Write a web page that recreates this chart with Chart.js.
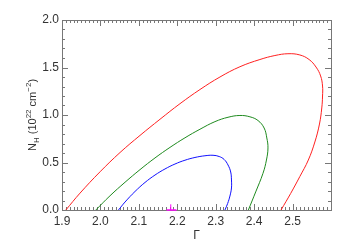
<!DOCTYPE html>
<html>
<head>
<meta charset="utf-8">
<script src="https://cdn.jsdelivr.net/npm/chart.js@4"></script>
<style>
  body { margin: 0; background: #fff; }
  canvas { display: block; }
</style>
</head>
<body>
<canvas id="contours" width="350" height="250"></canvas>
<script>
// contour lines (Gamma, N_H in 1e22 cm^-2)
const redGamma   = [1.910, 1.947, 1.999, 2.051, 2.103, 2.155, 2.207, 2.259, 2.311, 2.363, 2.415, 2.454, 2.488, 2.519, 2.543, 2.561, 2.573, 2.578, 2.578, 2.576, 2.570, 2.558, 2.541, 2.519, 2.495, 2.470];
const redNH      = [0.000, 0.178, 0.402, 0.605, 0.785, 0.955, 1.119, 1.268, 1.400, 1.508, 1.584, 1.626, 1.645, 1.632, 1.584, 1.505, 1.411, 1.305, 1.200, 1.074, 0.905, 0.716, 0.526, 0.353, 0.174, 0.000];

const greenGamma = [1.988, 2.025, 2.064, 2.103, 2.142, 2.181, 2.220, 2.259, 2.298, 2.332, 2.363, 2.389, 2.410, 2.426, 2.433, 2.436, 2.432, 2.423, 2.404, 2.385];
const greenNH    = [0.000, 0.150, 0.292, 0.425, 0.548, 0.659, 0.760, 0.850, 0.930, 0.976, 0.995, 0.981, 0.942, 0.863, 0.758, 0.653, 0.526, 0.386, 0.190, 0.000];

const blueGamma  = [2.047, 2.064, 2.090, 2.116, 2.142, 2.168, 2.194, 2.220, 2.246, 2.272, 2.293, 2.309, 2.322, 2.332, 2.339, 2.341, 2.341, 2.337, 2.331, 2.324];
const blueNH     = [0.000, 0.084, 0.195, 0.290, 0.368, 0.432, 0.484, 0.524, 0.553, 0.571, 0.576, 0.563, 0.532, 0.474, 0.400, 0.316, 0.232, 0.147, 0.068, 0.000];

// best fit mark
const bestGamma = 2.183;
const bestErrLo = 2.172;
const bestErrHi = 2.198;
const bestMarkH = 0.06;

// axes
const xMin = 1.9, xMax = 2.6, xStep = 0.1, xMinor = 0.01;
const yMin = 0, yMax = 2.0, yStep = 0.5, yMinor = 0.1;

const pts = (xs, ys) => xs.map((x, i) => ({x: x, y: ys[i]}));

const line = (data, color, width) => ({
  data: data,
  showLine: true,
  borderColor: color,
  borderWidth: width || 1,
  pointRadius: 0,
  tension: 0.4,
  fill: false,
  clip: false
});

const axisColor = '#777';
const textColor = '#333';

// IDL style box with inward ticks on all four sides + y title
const frame = {
  id: 'frame',
  beforeDatasetsDraw(chart) {
    const ctx = chart.ctx;
    const a = chart.chartArea;
    const sx = chart.scales.x, sy = chart.scales.y;
    ctx.save();
    ctx.strokeStyle = axisColor;
    ctx.lineWidth = 1;
    ctx.strokeRect(Math.round(a.left) + 0.5, Math.round(a.top) + 0.5,
                   Math.round(a.right - a.left), Math.round(a.bottom - a.top));
    ctx.beginPath();
    const nx = Math.round((xMax - xMin) / xMinor);
    for (let i = 0; i <= nx; i++) {
      const v = xMin + i * xMinor;
      const px = Math.round(sx.getPixelForValue(v)) + 0.5;
      const len = (i % 10 === 0) ? 6 : 3;
      ctx.moveTo(px, a.bottom); ctx.lineTo(px, a.bottom - len);
      ctx.moveTo(px, a.top); ctx.lineTo(px, a.top + len);
    }
    const ny = Math.round((yMax - yMin) / yMinor);
    for (let i = 0; i <= ny; i++) {
      const v = yMin + i * yMinor;
      const py = Math.round(sy.getPixelForValue(v)) + 0.5;
      const len = (i % 5 === 0) ? 6 : 3;
      ctx.moveTo(a.left, py); ctx.lineTo(a.left + len, py);
      ctx.moveTo(a.right, py); ctx.lineTo(a.right - len, py);
    }
    ctx.stroke();

    // y title: N_H (10^22 cm^-2)
    ctx.fillStyle = textColor;
    ctx.translate(36, (a.top + a.bottom) / 2);
    ctx.rotate(-Math.PI / 2);
    const big = '11px "Liberation Sans", Arial, sans-serif';
    const small = '8px "Liberation Sans", Arial, sans-serif';
    const parts = [
      ['N', big, 0], ['H', small, 3], [' (10', big, 0], ['22', small, -5],
      [' cm', big, 0], ['\u22122', small, -5], [')', big, 0]
    ];
    let w = 0;
    parts.forEach(p => { ctx.font = p[1]; w += ctx.measureText(p[0]).width; });
    let x = -w / 2;
    ctx.textBaseline = 'alphabetic';
    parts.forEach(p => {
      ctx.font = p[1];
      ctx.fillText(p[0], x, 0 + p[2]);
      x += ctx.measureText(p[0]).width;
    });
    ctx.restore();
  }
};

const config = {
  type: 'scatter',
  data: {
    datasets: [
      line(pts(redGamma, redNH), '#ff2020'),
      line(pts(greenGamma, greenNH), '#1e8a1e'),
      line(pts(blueGamma, blueNH), '#1010ff'),
      line([{x: bestErrLo, y: 0}, {x: bestErrHi, y: 0}], '#ff00ff', 1.5),
      line([{x: bestGamma, y: 0}, {x: bestGamma, y: bestMarkH}], '#ff00ff', 1)
    ]
  },
  options: {
    responsive: false,
    animation: false,
    layout: { padding: { left: 0, right: 19, top: 20, bottom: 0 } },
    plugins: {
      legend: { display: false },
      tooltip: { enabled: false }
    },
    scales: {
      x: {
        type: 'linear',
        min: xMin, max: xMax,
        afterFit: s => { s.height = 40; },
        grid: { display: false, drawTicks: false },
        border: { display: false },
        ticks: {
          stepSize: xStep,
          autoSkip: false,
          maxRotation: 0,
          padding: 4,
          color: textColor,
          font: { family: '"Liberation Sans", Arial, sans-serif', size: 12 },
          callback: v => Math.abs(v - xMax) < 1e-6 ? '' : v.toFixed(1)
        },
        title: {
          display: true,
          text: '\u0393',
          color: textColor,
          padding: { top: 0, bottom: 7 },
          font: { family: '"Liberation Sans", Arial, sans-serif', size: 12 }
        }
      },
      y: {
        type: 'linear',
        min: yMin, max: yMax,
        afterFit: s => { s.width = 62; },
        grid: { display: false, drawTicks: false },
        border: { display: false },
        ticks: {
          stepSize: yStep,
          padding: 3,
          color: textColor,
          font: { family: '"Liberation Sans", Arial, sans-serif', size: 12 },
          callback: v => v.toFixed(1)
        }
      }
    }
  },
  plugins: [frame]
};

const ctx = document.getElementById('contours').getContext('2d');
new Chart(ctx, config);
</script>
</body>
</html>
